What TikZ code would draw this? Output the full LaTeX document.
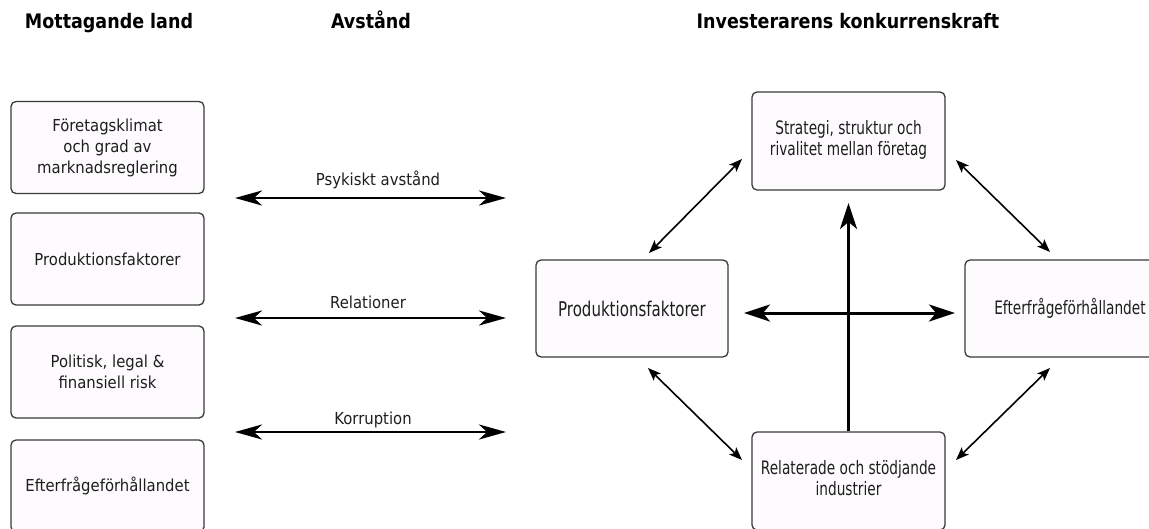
\documentclass[tikz,border=0pt]{standalone}
\usepackage{fontspec}
\setmainfont{DejaVu Sans}
\newfontfamily\tfont[FakeStretch=0.875]{DejaVu Sans}
\newfontfamily\lfont[FakeStretch=0.9]{DejaVu Sans}
\newfontfamily\rfont[FakeStretch=0.74]{DejaVu Sans}
\usetikzlibrary{arrows.meta}
\definecolor{boxfill}{RGB}{253,251,253}
\definecolor{boxline}{RGB}{58,58,58}
\definecolor{txt}{RGB}{30,30,30}
\newcommand{\twol}[3]{\raisebox{#1}{\begin{tabular}{@{}c@{}}#2\\#3\end{tabular}}}
\tikzset{
  ttl/.style={font=\tfont\bfseries\fontsize{20pt}{24pt}\selectfont, text=black, inner sep=0pt, anchor=base},
  lbox/.style={draw=boxline, fill=boxfill, line width=1.3pt, rounded corners=5pt,
    minimum width=193pt, minimum height=92pt, inner sep=0pt, align=center, text=txt,
    font=\lfont\fontsize{16.5pt}{21pt}\selectfont},
  rbox/.style={draw=boxline, fill=boxfill, line width=1.3pt, rounded corners=5pt,
    minimum width=193pt, minimum height=98pt, inner sep=0pt, align=center, text=txt,
    font=\rfont\fontsize{18.5pt}{20.5pt}\selectfont},
  rbig/.style={font=\rfont\fontsize{20.3pt}{22pt}\selectfont, minimum height=97pt},
  lbl/.style={text=txt, inner sep=0pt, anchor=base, font=\lfont\fontsize{16.5pt}{20pt}\selectfont},
  wide/.style={line width=2.6pt, {Stealth[length=27pt,width=15pt,inset=8pt]}-{Stealth[length=27pt,width=15pt,inset=8pt]}},
  thick2/.style={line width=3pt},
  tipb/.style={-{Stealth[length=26pt,width=17pt,inset=7pt]}},
  tipbb/.style={{Stealth[length=26pt,width=17pt,inset=7pt]}-{Stealth[length=26pt,width=17pt,inset=7pt]}},
  thin2/.style={line width=1.6pt, {Stealth[length=13pt,width=10pt,inset=3pt]}-{Stealth[length=13pt,width=10pt,inset=3pt]}}
}
\begin{document}
\begin{tikzpicture}[x=1pt,y=-1pt]
\useasboundingbox (0,0) rectangle (1149,528);
% titles
\node[ttl] (t1) at (109,28) {Mottagande land};
\node[ttl] (t2) at (371,28) {Avstånd};
\node[ttl] (t3) at (848,28) {Investerarens konkurrenskraft};
% left boxes
\node[lbox] (b1) at (107.5,147.5) {Företagsklimat\\och grad av\\marknadsreglering};
\node[lbox] (b2) at (107.5,259) {Produktionsfaktorer};
\node[lbox] (b3) at (107.5,372) {Politisk, legal \&\\finansiell risk};
\node[lbox] (b4) at (107.5,486) {Efterfrågeförhållandet};
% distance arrows
\coordinate (a1l) at (235,198); \coordinate (a1r) at (506,198);
\coordinate (a2l) at (235,318); \coordinate (a2r) at (506,318);
\coordinate (a3l) at (235,432); \coordinate (a3r) at (506,432);
\draw[wide] (a1l) -- (a1r);
\draw[wide] (a2l) -- (a2r);
\draw[wide] (a3l) -- (a3r);
\node[lbl] (l1) at (378,185) {Psykiskt avstånd};
\node[lbl] (l2) at (368,308) {Relationer};
\node[lbl] (l3) at (373,424) {Korruption};
% diamond
\node[rbox] (s) at (848.5,141) {\twol{6pt}{Strategi, struktur och}{rivalitet mellan företag}};
\node[rbox, rbig, minimum width=192pt] (p) at (632,308.5) {Produktionsfaktorer};
\node[rbox, minimum height=97pt, minimum width=210pt] (e) at (1070,308.5) {Efterfrågeförhållandet};
\node[rbox] (r) at (848.5,481) {\twol{4pt}{Relaterade och stödjande}{industrier}};
% thick arrows
\coordinate (vt) at (848.5,203);
\coordinate (hl) at (744,313); \coordinate (hr) at (955,313);
\draw[thick2, tipb] (r.north) -- (vt);
\draw[thick2, tipbb] (hl) -- (hr);
% diagonal arrows
\coordinate (d1a) at (649,253); \coordinate (d1b) at (742,159);
\coordinate (d2a) at (956,160); \coordinate (d2b) at (1050,252);
\coordinate (d3a) at (648,368); \coordinate (d3b) at (742,460);
\coordinate (d4a) at (1050,368); \coordinate (d4b) at (956,460);
\draw[thin2] (d1a) -- (d1b);
\draw[thin2] (d2a) -- (d2b);
\draw[thin2] (d3a) -- (d3b);
\draw[thin2] (d4a) -- (d4b);
\end{tikzpicture}
\end{document}
